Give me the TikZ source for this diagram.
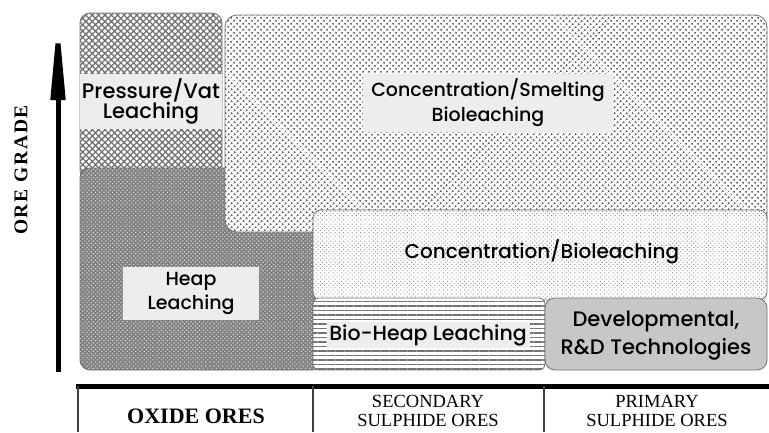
\documentclass[tikz,border=0pt]{standalone}
\usepackage{fontspec}
\usetikzlibrary{arrows.meta,patterns.meta}
\newfontfamily\comicfont{Poppins Medium}
\newfontfamily\timesfont{Liberation Serif}

\begin{document}
\begin{tikzpicture}[
    x=1pt, y=-1pt,
    region/.style={draw=black!55, line width=0.8pt, rounded corners=10pt},
    tag/.style={font=\comicfont, align=center, inner sep=0pt},
    tagbg/.style={tag, fill=black!7},
    ore/.style={font=\timesfont\fontsize{18.5}{20}\selectfont, anchor=base},
    axis/.style={line width=5pt, -{Triangle[length=88pt, width=14pt]}}
]
\clip (0,0) rectangle (769,432);
\fill[white] (0,0) rectangle (769,432);

% ore grade axis
\coordinate (low) at (58,372);
\coordinate (high) at (58,12);
\draw[axis] (low) -- (high);
\node[font=\timesfont\bfseries\fontsize{19.5}{20}\selectfont\addfontfeature{LetterSpace=9}, rotate=90] (grade) at (21,170) {ORE GRADE};

% regions, back to front
\path[region, preaction={fill=white}, pattern={Hatch[angle=45, distance=4.5pt, line width=1.3pt]}, pattern color=black!55]
    (80,13) rectangle (222,180);
\path[region, preaction={fill=black!50}, pattern={Dots[angle=45, distance=3pt, radius=0.85pt]}, pattern color=white!85!black]
    (80,168) rectangle (322,370);
\path[region, rounded corners=12pt, preaction={fill=white}, pattern={Dots[angle=45, distance=4pt, radius=1.2pt]}, pattern color=black!62]
    (225,15) rectangle (767,232);
\path[region, rounded corners=8pt, preaction={fill=white}, pattern={Dots[angle=45, distance=3pt, radius=0.65pt]}, pattern color=black!45]
    (313,210) rectangle (767,300);
\path[region, rounded corners=6pt, preaction={fill=white}, pattern={Lines[angle=0, distance=4.5pt, line width=1.6pt]}, pattern color=black!55]
    (313,298) rectangle (545,370);
\path[region, fill=black!22] (545,298) rectangle (767,370);

% labels
\node[tagbg, minimum width=142pt, minimum height=55pt, font=\comicfont\fontsize{21}{20}\selectfont] (pressure) at (151,101) {Pressure/Vat\\Leaching};
\node[tagbg, minimum width=250pt, minimum height=58pt, font=\comicfont\fontsize{19}{25}\selectfont] (smelting) at (488,103) {Concentration/Smelting\\Bioleaching};
\node[tagbg, minimum width=136pt, minimum height=53pt, font=\comicfont\fontsize{19}{24}\selectfont] (heap) at (191,293) {Heap\\Leaching};
\node[tag, font=\comicfont\fontsize{20}{24}\selectfont] (bioconc) at (542,252) {Concentration/Bioleaching};
\node[tagbg, minimum width=203pt, minimum height=26pt, font=\comicfont\fontsize{20.5}{24}\selectfont] (bioheap) at (428,335) {Bio-Heap Leaching};
\node[tag, font=\comicfont\fontsize{21}{28}\selectfont] (devel) at (656,336) {Developmental,\\R\&D Technologies};

% ore types
\draw[line width=5pt] (76,386) -- (769,386);
\foreach \x in {78,313,544}
    \draw[line width=2pt, black!75] (\x,386) -- (\x,432);
\node[ore, font=\timesfont\bfseries\fontsize{22}{24}\selectfont] (oxide) at (196,423) {OXIDE ORES};
\node[ore] (secondary) at (428,407) {SECONDARY};
\node[ore] (secsulph) at (428,426) {SULPHIDE ORES};
\node[ore] (primary) at (657,407) {PRIMARY};
\node[ore] (primsulph) at (657,426) {SULPHIDE ORES};
\end{tikzpicture}
\end{document}
